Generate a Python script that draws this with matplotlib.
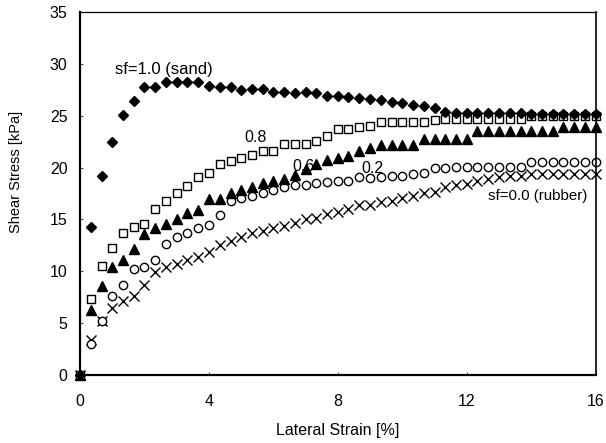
import numpy as np
import matplotlib
matplotlib.use("Agg")
import matplotlib.pyplot as plt

plt.rcParams['font.family'] = ['Liberation Sans', 'DejaVu Sans']

# lateral strain [%], one reading every 1/3 %
strain = [round(i / 3, 2) for i in range(49)]

sand = [0, 14.3, 19.2, 22.5, 25.1, 26.4, 27.8, 27.8, 28.2, 28.2,
        28.2, 28.2, 27.9, 27.8, 27.8, 27.5, 27.6, 27.6, 27.3, 27.3,
        27.2, 27.3, 27.2, 26.9, 26.9, 26.8, 26.7, 26.6, 26.5, 26.3,
        26.2, 26.0, 25.9, 25.7, 25.4, 25.3, 25.3, 25.3, 25.3, 25.3,
        25.3, 25.3, 25.2, 25.2, 25.2, 25.2, 25.2, 25.2, 25.2]
sf08 = [0, 7.3, 10.5, 12.2, 13.7, 14.3, 14.6, 16.0, 16.8, 17.5,
        18.2, 19.1, 19.5, 20.3, 20.6, 20.9, 21.2, 21.6, 21.6, 22.3,
        22.3, 22.3, 22.6, 23.0, 23.7, 23.7, 23.9, 24.0, 24.4, 24.4,
        24.4, 24.4, 24.4, 24.6, 24.7, 24.7, 24.7, 24.7, 24.7, 24.7,
        24.7, 24.7, 25.0, 25.0, 25.0, 25.0, 25.0, 25.0, 25.0]
sf06 = [0, 6.3, 8.6, 10.4, 11.1, 12.1, 13.6, 14.2, 14.6, 15.0,
        15.6, 15.9, 17.0, 17.0, 17.5, 17.8, 18.1, 18.5, 18.7, 18.9,
        19.3, 19.9, 20.3, 20.7, 20.9, 21.1, 21.6, 21.9, 22.2, 22.2,
        22.2, 22.2, 22.8, 22.8, 22.8, 22.8, 22.8, 23.5, 23.5, 23.5,
        23.5, 23.5, 23.5, 23.5, 23.5, 23.9, 23.9, 23.9, 23.9]
sf02 = [0, 3.0, 5.2, 7.6, 8.7, 10.2, 10.4, 11.1, 12.6, 13.3,
        13.7, 14.2, 14.5, 15.4, 16.8, 17.1, 17.3, 17.5, 17.8, 18.1,
        18.3, 18.3, 18.5, 18.6, 18.7, 18.75, 19.1, 19.0, 19.1, 19.2,
        19.2, 19.4, 19.5, 20.0, 20.0, 20.1, 20.1, 20.1, 20.1, 20.1,
        20.1, 20.1, 20.5, 20.5, 20.5, 20.5, 20.5, 20.5, 20.5]
rubber = [0, 3.4, 5.2, 6.5, 7.1, 7.6, 8.7, 9.9, 10.4, 10.7,
          11.1, 11.4, 11.9, 12.5, 12.9, 13.3, 13.7, 13.9, 14.2, 14.4,
          14.7, 15.0, 15.1, 15.5, 15.7, 16.0, 16.35, 16.4, 16.7, 16.8,
          17.1, 17.3, 17.5, 17.6, 18.1, 18.3, 18.4, 18.7, 18.9, 19.1,
          19.2, 19.2, 19.4, 19.4, 19.4, 19.4, 19.4, 19.4, 19.4]

fig = plt.figure(figsize=(6.06, 4.43), dpi=100)
ax = fig.add_axes([0.132, 0.1535, 0.851, 0.8195])

ax.plot(strain, rubber, ls='none', marker='x', ms=6.5, mew=1.0, color='black', clip_on=False)
ax.plot(strain, sf02, ls='none', marker='o', ms=6, mfc='white', mec='black', mew=1.0, clip_on=False)
ax.plot(strain, sf06, ls='none', marker='^', ms=6.5, color='black', clip_on=False)
ax.plot(strain, sf08, ls='none', marker='s', ms=6, mfc='white', mec='black', mew=1.0, clip_on=False)
ax.plot(strain, sand, ls='none', marker='D', ms=5.5, color='black', clip_on=False)

ax.text(1.1, 29.5, 'sf=1.0 (sand)', fontsize=12, va='center')
ax.text(5.1, 22.9, '0.8', fontsize=11.5, va='center')
ax.text(6.6, 20.1, '0.6', fontsize=11.5, va='center')
ax.text(8.73, 19.9, '0.2', fontsize=11.5, va='center')
ax.text(12.65, 17.3, 'sf=0.0 (rubber)', fontsize=10.8, va='center')

ax.set_xlim(0, 16)
ax.set_ylim(0, 35)
ax.set_xticks([0, 4, 8, 12, 16])
ax.set_yticks(range(0, 36, 5))
ax.tick_params(direction='in', length=2, width=0.5, labelsize=11.5)
ax.tick_params(axis='x', pad=14)
ax.tick_params(axis='y', pad=9)
ax.set_xlabel('Lateral Strain [%]', fontsize=11.5, labelpad=9.5)
ax.set_ylabel('Shear Stress [kPa]', fontsize=10.5)
ax.yaxis.set_label_coords(-0.11, 0.558)
ax.spines['left'].set_linewidth(1.6)
ax.spines['bottom'].set_linewidth(1.6)
ax.spines['top'].set_linewidth(0.9)
ax.spines['right'].set_linewidth(1.2)

fig.savefig('out.png', dpi=100)
